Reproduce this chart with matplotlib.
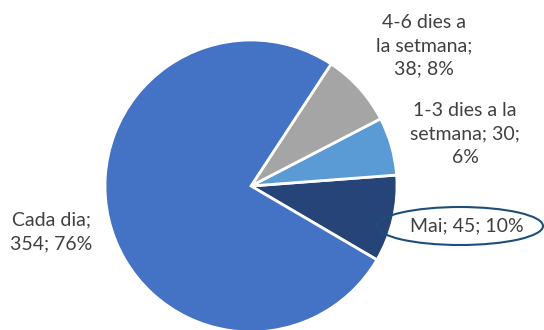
import matplotlib
matplotlib.use("Agg")
import matplotlib.pyplot as plt
from matplotlib.patches import Ellipse

categories = ["Mai", "1-3 dies a la setmana", "4-6 dies a la setmana", "Cada dia"]
counts = [45, 30, 38, 354]
percents = [10, 6, 8, 76]
colors = ["#264478", "#5B9BD5", "#A5A5A5", "#4472C4"]

label_texts = [
    "Mai; 45; 10%",
    "1-3 dies a la\nsetmana; 30;\n6%",
    "4-6 dies a\nla setmana;\n38; 8%",
    "Cada dia;\n354; 76%",
]
label_pos_px = [(467, 226), (465, 134), (424, 46), (51, 232)]

W, H = 544, 330
fig = plt.figure(figsize=(W / 100, H / 100), dpi=100)
ax = fig.add_axes([0, 0, 1, 1])

cx, cy, r = 251, H - 186, 146
total = sum(counts)
start = 4.3 - counts[0] / total * 360
ax.pie(counts, colors=colors, startangle=start, counterclock=True,
       center=(cx, cy), radius=r,
       wedgeprops=dict(edgecolor="white", linewidth=2.0))

ax.set_xlim(0, W)
ax.set_ylim(0, H)
ax.set_aspect("equal")
ax.axis("off")

for txt, (x, y) in zip(label_texts, label_pos_px):
    ax.text(x, H - y, txt, ha="center", va="center", fontsize=14,
            family="Lato", color="#404040", linespacing=1.45)

ax.add_patch(Ellipse((460, H - 226), 166, 38, fill=False,
                     edgecolor="#1F4E79", linewidth=1.5, clip_on=False))

fig.savefig("out.png", dpi=100)
